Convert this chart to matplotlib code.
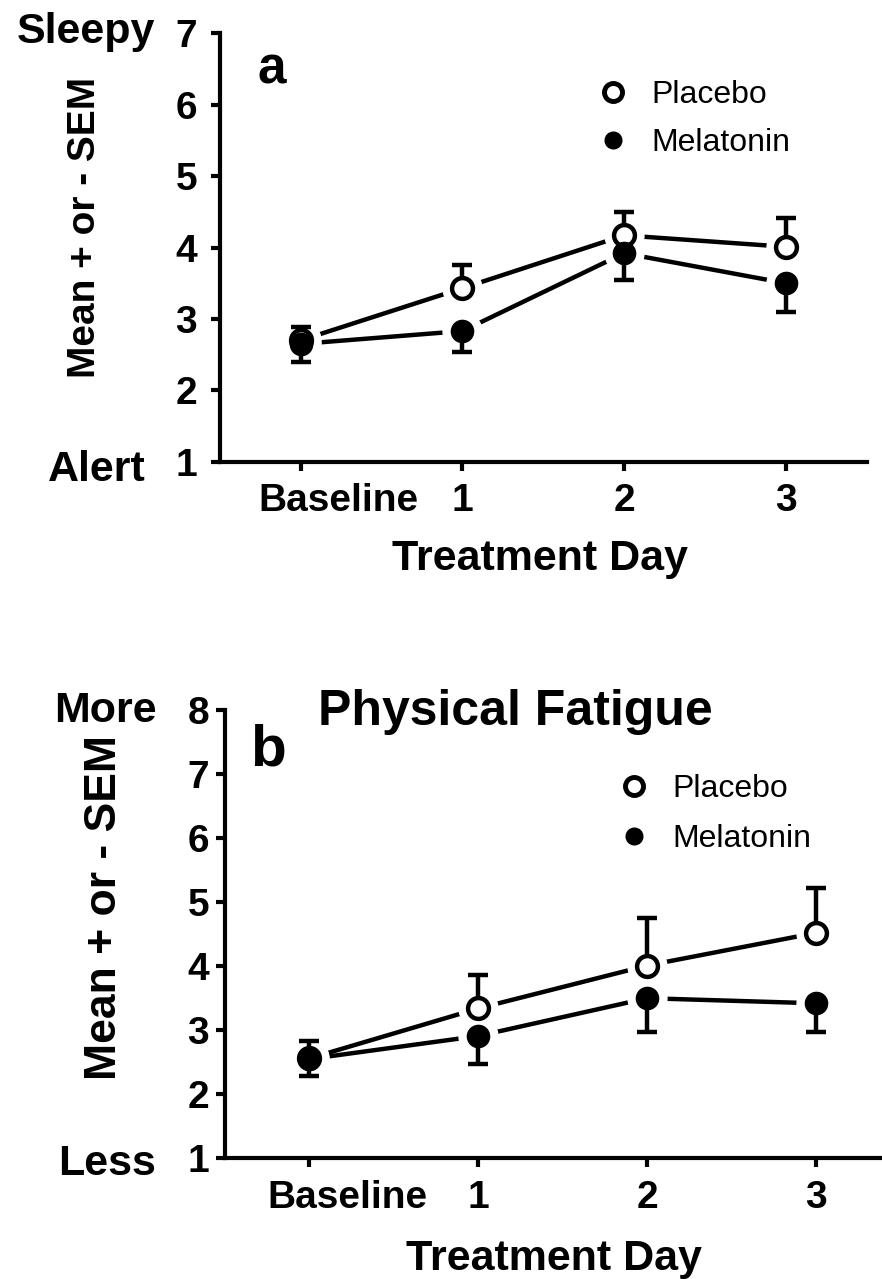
import numpy as np
import matplotlib
matplotlib.use("Agg")
import matplotlib.pyplot as plt
from matplotlib.lines import Line2D
from matplotlib.transforms import ScaledTranslation

plt.rcParams['font.family'] = ['Liberation Sans', 'DejaVu Sans']

days = [0, 1, 2, 3]
day_labels = ["Baseline", "1", "2", "3"]

# panel a: sleepiness
a_placebo = [2.70, 3.43, 4.17, 4.01]
a_placebo_sem = [0.19, 0.32, 0.33, 0.40]
a_melatonin = [2.65, 2.83, 3.92, 3.50]
a_melatonin_sem = [0.26, 0.29, 0.38, 0.40]

# panel b: physical fatigue
b_placebo = [2.56, 3.34, 4.01, 4.52]
b_placebo_sem = [0.27, 0.52, 0.74, 0.70]
b_melatonin = [2.55, 2.91, 3.50, 3.42]
b_melatonin_sem = [0.26, 0.43, 0.53, 0.45]

W, H = 882, 1279
fig = plt.figure(figsize=(W / 100, H / 100), dpi=100)


def px(x, y):
    return x / W, 1 - y / H


def panel(rect, ymax, plac, plac_e, mel, mel_e, ypad):
    ax = fig.add_axes(rect)
    ax.set_xlim(-0.5, 3.5)
    ax.set_ylim(1, ymax)
    for s in ["top", "right"]:
        ax.spines[s].set_visible(False)
    for s in ["left", "bottom"]:
        ax.spines[s].set_linewidth(3)
    ax.tick_params(direction="out", length=6.5, width=3, labelsize=28)
    ax.tick_params(axis="y", pad=ypad)
    ax.tick_params(axis="x", pad=9)
    ax.set_yticks(range(1, ymax + 1))
    ax.set_xticks(days)
    ax.set_xticklabels(day_labels)
    for lab in ax.get_xticklabels() + ax.get_yticklabels():
        lab.set_fontweight("bold")
    # Prism puts the Baseline label off to the right of its tick
    lab0 = ax.get_xticklabels()[0]
    lab0.set_transform(lab0.get_transform() + ScaledTranslation(0.38, 0, fig.dpi_scale_trans))

    ax.plot(days, plac, color="black", lw=3.2, zorder=1, clip_on=False)
    ax.plot(days, mel, color="black", lw=3.2, zorder=1, clip_on=False)
    ax.plot(days, plac, ls="none", marker="o", ms=28, mfc="white", mec="white", zorder=2)
    ax.plot(days, mel, ls="none", marker="o", ms=28, mfc="white", mec="white", zorder=2)
    ax.errorbar(days, plac, yerr=[np.zeros(4), plac_e], fmt="none", ecolor="black",
                elinewidth=3.2, capsize=7, capthick=3.2, zorder=3)
    ax.errorbar(days, mel, yerr=[mel_e, np.zeros(4)], fmt="none", ecolor="black",
                elinewidth=3.2, capsize=7, capthick=3.2, zorder=3)
    ax.plot(days, plac, ls="none", marker="o", ms=15, mfc="white", mec="black", mew=3.2, zorder=4)
    ax.plot(days, mel, ls="none", marker="o", ms=16, mfc="black", mec="black", zorder=5)
    return ax


def legend(ax, x, y, spacing):
    h1 = Line2D([], [], ls="none", marker="o", ms=13, mfc="white", mec="black", mew=3.5)
    h2 = Line2D([], [], ls="none", marker="o", ms=12, mfc="black", mec="black")
    bx, by = px(x, y)
    ax.legend([h1, h2], ["Placebo", "Melatonin"], frameon=False, fontsize=23,
              loc="upper left", bbox_to_anchor=(bx, by), bbox_transform=fig.transFigure,
              handlelength=1.0, handletextpad=0.7, borderpad=0, borderaxespad=0,
              labelspacing=spacing)


# panel a
ax1 = panel([220 / W, 1 - 461.7 / H, 646.5 / W, 428.4 / H], 7,
            a_placebo, a_placebo_sem, a_melatonin, a_melatonin_sem, ypad=10)
legend(ax1, 597, 80, 0.57)
fig.text(*px(272, 83), "a", fontsize=37, fontweight="bold", ha="center", va="baseline")
fig.text(*px(85, 227), "Mean + or - SEM", fontsize=28, fontweight="bold",
         rotation=90, ha="center", va="center")
fig.text(*px(155, 43), "Sleepy", fontsize=31, fontweight="bold", ha="right", va="baseline")
fig.text(*px(146, 481), "Alert", fontsize=31, fontweight="bold", ha="right", va="baseline")
fig.text(*px(540, 570), "Treatment Day", fontsize=31, fontweight="bold", ha="center", va="baseline")

# panel b
ax2 = panel([225 / W, 1 - 1158.3 / H, 675.5 / W, 448.3 / H], 8,
            b_placebo, b_placebo_sem, b_melatonin, b_melatonin_sem, ypad=5)
legend(ax2, 618, 774, 0.62)
fig.text(*px(268, 766), "b", fontsize=42, fontweight="bold", ha="center", va="baseline")
fig.text(*px(515, 725), "Physical Fatigue", fontsize=36, fontweight="bold", ha="center", va="baseline")
fig.text(*px(105, 908), "Mean + or - SEM", fontsize=32, fontweight="bold",
         rotation=90, ha="center", va="center")
fig.text(*px(157, 722), "More", fontsize=31, fontweight="bold", ha="right", va="baseline")
fig.text(*px(156, 1175), "Less", fontsize=31, fontweight="bold", ha="right", va="baseline")
fig.text(*px(554, 1270), "Treatment Day", fontsize=31, fontweight="bold", ha="center", va="baseline")

fig.savefig("out.png", dpi=100)
